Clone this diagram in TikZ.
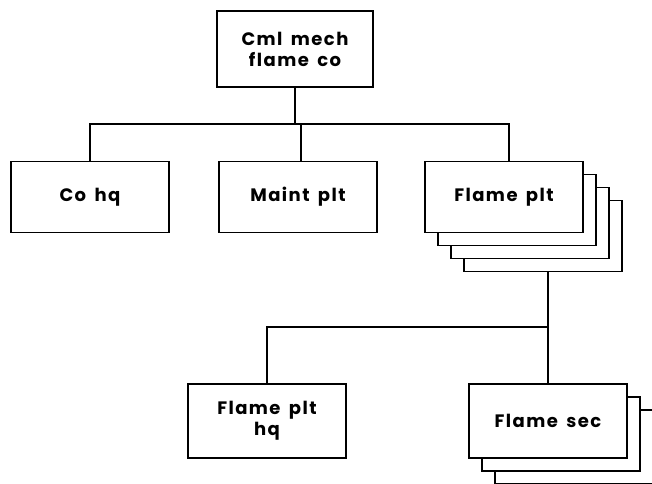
\documentclass[tikz,border=0pt]{standalone}
\usepackage{fontspec}
\setsansfont{Poppins}[LetterSpace=8,WordSpace=1.6]
\usetikzlibrary{positioning,calc}
\tikzset{
  unit/.style={draw=black,line width=1.6pt,fill=white,minimum width=158pt,minimum height=71pt,align=center,inner sep=2pt,font=\sffamily\bfseries\fontsize{18}{21}\selectfont},
  link/.style={line width=2.8pt},
}
\begin{document}
\begin{tikzpicture}[x=1pt,y=-1pt]
 \useasboundingbox (0,0) rectangle (652,483);
 \clip (0,0) rectangle (652,483);
 \node[unit,minimum width=156pt,minimum height=76pt] (co) at (295,49) {Cml mech\\flame co};
 % company row
 \node[unit] (cohq) at (90,197) {Co hq};
 \node[unit] (maint) at (298,197) {Maint plt};
 \foreach \i in {3,2,1} {\node[unit] (fpl\i) at (504+13*\i,197+13*\i) {};}
 \node[unit] (fplt) at (504,197) {Flame plt};
 % platoon row
 \node[unit,minimum height=74pt] (fphq) at (267,421) {Flame plt\\hq};
 \foreach \i in {2,1} {\node[unit,minimum height=74pt] (fsec\i) at (548+13*\i,421+13*\i) {};}
 \node[unit,minimum height=74pt] (fsec) at (548,421) {Flame sec};
 \coordinate (bus1) at (co.south |- 0,124);
 \coordinate (bus2) at (fsec.north |- 0,327);
 \draw[link] (co.south) -- (bus1);
 \draw[link] (cohq.north) |- (bus1) -| ($(fplt.north)+(5,0)$);
 \draw[link] (maint.north -| 301,0) -- (bus1 -| 301,0);
 \draw[link] (fpl3.south -| fsec.north) -- (fsec.north);
 \draw[link] (fphq.north) |- (bus2);
\end{tikzpicture}
\end{document}
